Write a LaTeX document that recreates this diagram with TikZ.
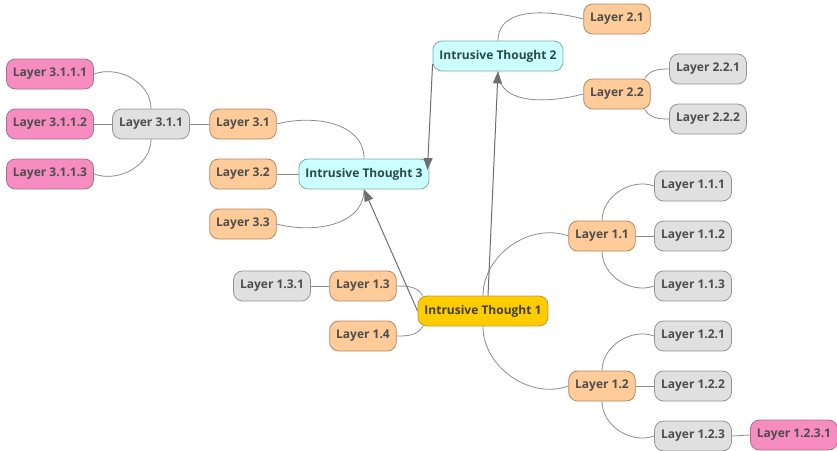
\documentclass[tikz,border=0pt]{standalone}
\usepackage{fontspec}
\setmainfont{Open Sans}
\usetikzlibrary{arrows.meta}

\definecolor{pinkfill}{HTML}{F78CC0}
\definecolor{pinkline}{HTML}{A8708C}
\definecolor{grayfill}{HTML}{E0E0E0}
\definecolor{grayline}{HTML}{929292}
\definecolor{peachfill}{HTML}{FFCC99}
\definecolor{peachline}{HTML}{B08866}
\definecolor{cyanfill}{HTML}{CCFFFF}
\definecolor{cyanline}{HTML}{80A8A8}
\definecolor{goldfill}{HTML}{FFCC00}
\definecolor{goldline}{HTML}{B89A3C}
\definecolor{txtgray}{HTML}{4D4D4D}
\definecolor{linkgray}{HTML}{8C8C8C}
\definecolor{arrowgray}{HTML}{6E6E6E}

\begin{document}
\begin{tikzpicture}[x=1pt,y=1pt,
    box/.style={draw, rounded corners=9pt, minimum height=30pt, inner xsep=6.5pt,
      line width=0.8pt, text=txtgray, font=\bfseries\fontsize{12}{14}\selectfont},
    pinkbox/.style={box, fill=pinkfill, draw=pinkline},
    graybox/.style={box, fill=grayfill, draw=grayline},
    peachbox/.style={box, fill=peachfill, draw=peachline},
    thought/.style={box, fill=cyanfill, draw=cyanline, text=black!60!teal!70!gray},
    mainthought/.style={box, fill=goldfill, draw=goldline, text=black!70!olive},
    link/.style={draw=linkgray, line width=0.8pt},
    jump/.style={draw=arrowgray, line width=1pt, -{Triangle[length=12pt,width=9pt]}}]

  \useasboundingbox (0,0) rectangle (837,-450);

  % the three thoughts
  \node[mainthought] (it1) at (483,-311) {Intrusive Thought 1};
  \node[thought] (it2) at (498,-56) {Intrusive Thought 2};
  \node[thought] (it3) at (364,-174) {Intrusive Thought 3};

  % branches of thought 1
  \node[peachbox] (l11) at (602,-236) {Layer 1.1};
  \node[peachbox] (l12) at (602,-386) {Layer 1.2};
  \node[peachbox] (l13) at (363,-286) {Layer 1.3};
  \node[peachbox] (l14) at (363,-336) {Layer 1.4};
  \foreach \k [count=\n] in {1,2,3} {
    \node[graybox] (l11\k) at (693,{-136-50*\n}) {Layer 1.1.\k};
    \node[graybox] (l12\k) at (693,{-286-50*\n}) {Layer 1.2.\k};
  }
  \node[pinkbox] (l1231) at (794,-435) {Layer 1.2.3.1};
  \node[graybox] (l131) at (272,-286) {Layer 1.3.1};

  % branches of thought 2
  \node[peachbox] (l21) at (617,-19) {Layer 2.1};
  \node[peachbox] (l22) at (617,-94) {Layer 2.2};
  \node[graybox] (l221) at (708,-69) {Layer 2.2.1};
  \node[graybox] (l222) at (708,-119) {Layer 2.2.2};

  % branches of thought 3
  \foreach \k [count=\n] in {1,2,3} {
    \node[peachbox] (l3\k) at (243,{-74-50*\n}) {Layer 3.\k};
    \node[pinkbox] (l311\k) at (50,{-24-50*\n}) {Layer 3.1.1.\k};
  }
  \node[graybox] (l311) at (151,-124) {Layer 3.1.1};

  % links
  \draw[link] (it1.north) to[out=90,in=160] (l11.west);
  \draw[link] (it1.south) to[out=-90,in=200] (l12.west);
  \draw[link] (l11.north) to[out=90,in=160] (l111.west);
  \draw[link] (l11.east) -- (l112.west);
  \draw[link] (l11.south) to[out=-90,in=200] (l113.west);
  \draw[link] (l12.north) to[out=90,in=160] (l121.west);
  \draw[link] (l12.east) -- (l122.west);
  \draw[link] (l12.south) to[out=-90,in=200] (l123.west);
  \draw[link] (l123.east) -- (l1231.west);
  \draw[link] (l13.east) to[out=0,in=120] ([xshift=5pt]it1.north west);
  \draw[link] (l14.east) to[out=0,in=-120] ([xshift=5pt]it1.south west);
  \draw[link] (l13.west) -- (l131.east);
  \draw[link] (it2.north) to[out=90,in=165] (l21.west);
  \draw[link] (it2.south) to[out=-90,in=195] (l22.west);
  \draw[link] ([xshift=-6pt]l22.north east) to[out=60,in=180] (l221.west);
  \draw[link] ([xshift=-6pt]l22.south east) to[out=-60,in=180] (l222.west);
  \draw[link] (it3.north) to[out=90,in=15] (l31.east);
  \draw[link] (it3.west) -- (l32.east);
  \draw[link] (it3.south) to[out=-90,in=-15] (l33.east);
  \draw[link] (l31.west) -- (l311.east);
  \draw[link] (l311.north) to[out=90,in=20] (l3111.east);
  \draw[link] (l311.west) -- (l3112.east);
  \draw[link] (l311.south) to[out=-90,in=-20] (l3113.east);

  % jumps between thoughts
  \draw[jump] ([xshift=5pt]it1.north) -- (it2.south);
  \draw[jump] (it1.west) -- (it3.south);
  \draw[jump] ([yshift=-8pt]it2.west) -- ([xshift=-2pt,yshift=4pt]it3.east);
\end{tikzpicture}
\end{document}
